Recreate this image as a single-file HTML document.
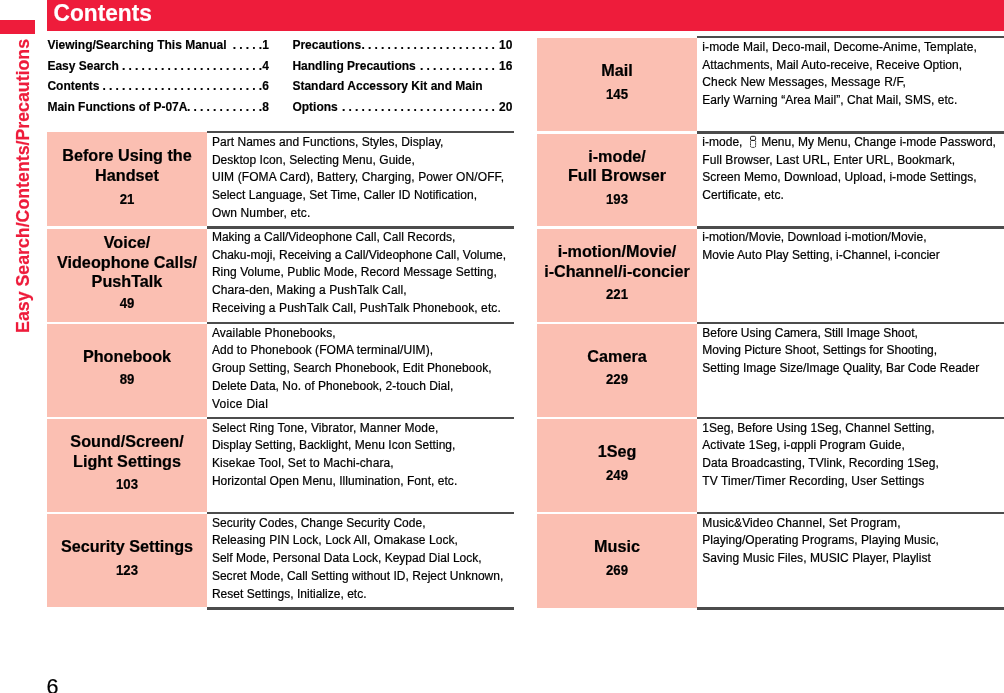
<!DOCTYPE html>
<html><head><meta charset="utf-8"><style>
html,body{margin:0;padding:0;background:#fff;}
body{width:1004px;height:693px;position:relative;overflow:hidden;will-change:transform;font-family:"Liberation Sans",sans-serif;}
.t{position:absolute;white-space:pre;-webkit-text-stroke:0.2px currentColor;}
.r{position:absolute;}
.vt{font-size:17.75px;font-weight:700;color:#ee1c3b;line-height:17.75px;transform-origin:0 0;transform:translate(15.0px,332.9px) rotate(-90deg);}
.toc{position:absolute;-webkit-text-stroke:0.15px #000;height:16px;line-height:12px;font-size:12px;font-weight:700;color:#000;overflow:hidden;white-space:nowrap;}
.toc .dots{position:absolute;top:0;white-space:pre;letter-spacing:-0.08px;}
.toc .tt{position:absolute;left:0;top:0;background:#fff;padding-right:4px;z-index:2;height:16px;}
.toc .num{position:absolute;right:0;top:0;background:#fff;padding-left:0px;}
.key{vertical-align:-2px;margin:0 1px 0 3px;}
</style></head><body>
<div class="r" style="left:0px;top:20px;width:35px;height:13.8px;background:#ee1c3b"></div>
<div class="r" style="left:47px;top:0px;width:957px;height:31px;background:#ee1c3b"></div>
<div class="t" style="left:53.60px;top:2.48px;font-size:22.7px;line-height:22.7px;font-weight:700;color:#fff;transform:scaleY(1.07);transform-origin:0 84.65%;">Contents</div>
<div class="t vt" style="left:0px;top:0px;">Easy Search/Contents/Precautions</div>
<div class="t" style="left:46.40px;top:677.00px;font-size:21.5px;line-height:21.5px;font-weight:400;color:#000;">6</div>
<div class="toc" style="left:47.4px;top:38.59px;width:221.5px"><span class="tt" style="padding-right:4px">Viewing/Searching This Manual</span><span class="num">1</span><span class="dots" style="right:6.97px"> . . . . . . . . . . . . . . . . . . . . . . . . . . . . . . . . . . . . . . . . . . . . . . . . . . . . . . . . . . . .</span></div>
<div class="toc" style="left:47.4px;top:59.74px;width:221.5px"><span class="tt" style="padding-right:1px">Easy Search</span><span class="num">4</span><span class="dots" style="right:6.97px"> . . . . . . . . . . . . . . . . . . . . . . . . . . . . . . . . . . . . . . . . . . . . . . . . . . . . . . . . . . . .</span></div>
<div class="toc" style="left:47.4px;top:79.74px;width:221.5px"><span class="tt" style="padding-right:1px">Contents</span><span class="num">6</span><span class="dots" style="right:6.97px"> . . . . . . . . . . . . . . . . . . . . . . . . . . . . . . . . . . . . . . . . . . . . . . . . . . . . . . . . . . . .</span></div>
<div class="toc" style="left:47.4px;top:100.54px;width:221.5px"><span class="tt" style="padding-right:0px">Main Functions of P-07A</span><span class="num">8</span><span class="dots" style="right:6.97px"> . . . . . . . . . . . . . . . . . . . . . . . . . . . . . . . . . . . . . . . . . . . . . . . . . . . . . . . . . . . .</span></div>
<div class="toc" style="left:292.4px;top:38.59px;width:220px"><span class="tt" style="padding-right:0px">Precautions</span><span class="num">10</span><span class="dots" style="right:17.54px"> . . . . . . . . . . . . . . . . . . . . . . . . . . . . . . . . . . . . . . . . . . . . . . . . . . . . . . . . . . . .</span></div>
<div class="toc" style="left:292.4px;top:59.74px;width:220px"><span class="tt" style="padding-right:1px">Handling Precautions</span><span class="num">16</span><span class="dots" style="right:17.54px"> . . . . . . . . . . . . . . . . . . . . . . . . . . . . . . . . . . . . . . . . . . . . . . . . . . . . . . . . . . . .</span></div>
<div class="toc" style="left:292.4px;top:79.74px;width:220px"><span class="tt">Standard Accessory Kit and Main</span></div>
<div class="toc" style="left:292.4px;top:100.54px;width:220px"><span class="tt" style="padding-right:1px">Options</span><span class="num">20</span><span class="dots" style="right:17.54px"> . . . . . . . . . . . . . . . . . . . . . . . . . . . . . . . . . . . . . . . . . . . . . . . . . . . . . . . . . . . .</span></div>
<svg style="position:absolute;left:749px;top:135px" width="8" height="14" viewBox="0 0 8 14"><rect x="1.5" y="5.3" width="5.1" height="7.1" rx="1.3" fill="none" stroke="#111" stroke-width="0.95" stroke-dasharray="1.3 0.45"/><rect x="1.5" y="1.3" width="5.1" height="4.2" rx="1.3" fill="none" stroke="#111" stroke-width="0.95"/></svg>
<div class="r" style="left:207px;top:131px;width:307px;height:2px;background:#4c4c4c"></div>
<div class="r" style="left:47px;top:132px;width:160px;height:94px;background:#fbbfb2"></div>
<div class="t" style="left:47.00px;top:147.35px;font-size:16.2px;line-height:16.2px;font-weight:700;color:#000;width:160px;text-align:center;">Before Using the</div>
<div class="t" style="left:47.00px;top:167.05px;font-size:16.2px;line-height:16.2px;font-weight:700;color:#000;width:160px;text-align:center;">Handset</div>
<div class="t" style="left:47.00px;top:193.39px;font-size:13.2px;line-height:13.2px;font-weight:700;color:#000;width:160px;text-align:center;transform:scaleY(1.1);transform-origin:50% 84.65%;">21</div>
<div class="t" style="left:211.90px;top:135.90px;font-size:12px;line-height:12px;font-weight:400;color:#000;letter-spacing:0.041px;">Part Names and Functions, Styles, Display,</div>
<div class="t" style="left:211.90px;top:153.65px;font-size:12px;line-height:12px;font-weight:400;color:#000;letter-spacing:0.043px;">Desktop Icon, Selecting Menu, Guide,</div>
<div class="t" style="left:211.90px;top:171.40px;font-size:12px;line-height:12px;font-weight:400;color:#000;letter-spacing:0.104px;">UIM (FOMA Card), Battery, Charging, Power ON/OFF,</div>
<div class="t" style="left:211.90px;top:189.15px;font-size:12px;line-height:12px;font-weight:400;color:#000;letter-spacing:0.033px;">Select Language, Set Time, Caller ID Notification,</div>
<div class="t" style="left:211.90px;top:206.90px;font-size:12px;line-height:12px;font-weight:400;color:#000;letter-spacing:0.160px;">Own Number, etc.</div>
<div class="r" style="left:207px;top:226px;width:307px;height:3px;background:#4c4c4c"></div>
<div class="r" style="left:47px;top:229px;width:160px;height:93px;background:#fbbfb2"></div>
<div class="t" style="left:47.00px;top:234.05px;font-size:16.2px;line-height:16.2px;font-weight:700;color:#000;width:160px;text-align:center;">Voice/</div>
<div class="t" style="left:47.00px;top:254.25px;font-size:16.2px;line-height:16.2px;font-weight:700;color:#000;width:160px;text-align:center;">Videophone Calls/</div>
<div class="t" style="left:47.00px;top:272.85px;font-size:16.2px;line-height:16.2px;font-weight:700;color:#000;width:160px;text-align:center;">PushTalk</div>
<div class="t" style="left:47.00px;top:297.49px;font-size:13.2px;line-height:13.2px;font-weight:700;color:#000;width:160px;text-align:center;transform:scaleY(1.1);transform-origin:50% 84.65%;">49</div>
<div class="t" style="left:211.90px;top:230.90px;font-size:12px;line-height:12px;font-weight:400;color:#000;letter-spacing:0.021px;">Making a Call/Videophone Call, Call Records,</div>
<div class="t" style="left:211.90px;top:248.65px;font-size:12px;line-height:12px;font-weight:400;color:#000;letter-spacing:-0.021px;">Chaku-moji, Receiving a Call/Videophone Call, Volume,</div>
<div class="t" style="left:211.90px;top:266.40px;font-size:12px;line-height:12px;font-weight:400;color:#000;letter-spacing:0.058px;">Ring Volume, Public Mode, Record Message Setting,</div>
<div class="t" style="left:211.90px;top:284.15px;font-size:12px;line-height:12px;font-weight:400;color:#000;letter-spacing:0.097px;">Chara-den, Making a PushTalk Call,</div>
<div class="t" style="left:211.90px;top:301.90px;font-size:12px;line-height:12px;font-weight:400;color:#000;letter-spacing:0.094px;">Receiving a PushTalk Call, PushTalk Phonebook, etc.</div>
<div class="r" style="left:207px;top:322px;width:307px;height:2px;background:#4c4c4c"></div>
<div class="r" style="left:47px;top:324px;width:160px;height:93px;background:#fbbfb2"></div>
<div class="t" style="left:47.00px;top:347.99px;font-size:16.2px;line-height:16.2px;font-weight:700;color:#000;width:160px;text-align:center;">Phonebook</div>
<div class="t" style="left:47.00px;top:373.03px;font-size:13.2px;line-height:13.2px;font-weight:700;color:#000;width:160px;text-align:center;transform:scaleY(1.1);transform-origin:50% 84.65%;">89</div>
<div class="t" style="left:211.90px;top:326.74px;font-size:12px;line-height:12px;font-weight:400;color:#000;letter-spacing:0.090px;">Available Phonebooks,</div>
<div class="t" style="left:211.90px;top:344.49px;font-size:12px;line-height:12px;font-weight:400;color:#000;letter-spacing:0.067px;">Add to Phonebook (FOMA terminal/UIM),</div>
<div class="t" style="left:211.90px;top:362.24px;font-size:12px;line-height:12px;font-weight:400;color:#000;letter-spacing:0.045px;">Group Setting, Search Phonebook, Edit Phonebook,</div>
<div class="t" style="left:211.90px;top:379.99px;font-size:12px;line-height:12px;font-weight:400;color:#000;letter-spacing:0.030px;">Delete Data, No. of Phonebook, 2-touch Dial,</div>
<div class="t" style="left:211.90px;top:397.74px;font-size:12px;line-height:12px;font-weight:400;color:#000;letter-spacing:0.300px;">Voice Dial</div>
<div class="r" style="left:207px;top:417px;width:307px;height:2px;background:#4c4c4c"></div>
<div class="r" style="left:47px;top:419px;width:160px;height:93px;background:#fbbfb2"></div>
<div class="t" style="left:47.00px;top:433.19px;font-size:16.2px;line-height:16.2px;font-weight:700;color:#000;width:160px;text-align:center;">Sound/Screen/</div>
<div class="t" style="left:47.00px;top:452.89px;font-size:16.2px;line-height:16.2px;font-weight:700;color:#000;width:160px;text-align:center;">Light Settings</div>
<div class="t" style="left:47.00px;top:478.23px;font-size:13.2px;line-height:13.2px;font-weight:700;color:#000;width:160px;text-align:center;transform:scaleY(1.1);transform-origin:50% 84.65%;">103</div>
<div class="t" style="left:211.90px;top:421.74px;font-size:12px;line-height:12px;font-weight:400;color:#000;letter-spacing:0.103px;">Select Ring Tone, Vibrator, Manner Mode,</div>
<div class="t" style="left:211.90px;top:439.49px;font-size:12px;line-height:12px;font-weight:400;color:#000;letter-spacing:0.031px;">Display Setting, Backlight, Menu Icon Setting,</div>
<div class="t" style="left:211.90px;top:457.24px;font-size:12px;line-height:12px;font-weight:400;color:#000;letter-spacing:0.100px;">Kisekae Tool, Set to Machi-chara,</div>
<div class="t" style="left:211.90px;top:474.99px;font-size:12px;line-height:12px;font-weight:400;color:#000;letter-spacing:0.027px;">Horizontal Open Menu, Illumination, Font, etc.</div>
<div class="r" style="left:207px;top:512px;width:307px;height:2px;background:#4c4c4c"></div>
<div class="r" style="left:47px;top:514px;width:160px;height:93px;background:#fbbfb2"></div>
<div class="t" style="left:47.00px;top:537.99px;font-size:16.2px;line-height:16.2px;font-weight:700;color:#000;width:160px;text-align:center;">Security Settings</div>
<div class="t" style="left:47.00px;top:564.03px;font-size:13.2px;line-height:13.2px;font-weight:700;color:#000;width:160px;text-align:center;transform:scaleY(1.1);transform-origin:50% 84.65%;">123</div>
<div class="t" style="left:211.90px;top:516.74px;font-size:12px;line-height:12px;font-weight:400;color:#000;letter-spacing:0.044px;">Security Codes, Change Security Code,</div>
<div class="t" style="left:211.90px;top:534.49px;font-size:12px;line-height:12px;font-weight:400;color:#000;letter-spacing:0.060px;">Releasing PIN Lock, Lock All, Omakase Lock,</div>
<div class="t" style="left:211.90px;top:552.24px;font-size:12px;line-height:12px;font-weight:400;color:#000;letter-spacing:0.021px;">Self Mode, Personal Data Lock, Keypad Dial Lock,</div>
<div class="t" style="left:211.90px;top:569.99px;font-size:12px;line-height:12px;font-weight:400;color:#000;letter-spacing:0.025px;">Secret Mode, Call Setting without ID, Reject Unknown,</div>
<div class="t" style="left:211.90px;top:587.74px;font-size:12px;line-height:12px;font-weight:400;color:#000;letter-spacing:0.019px;">Reset Settings, Initialize, etc.</div>
<div class="r" style="left:207px;top:607px;width:307px;height:3px;background:#4c4c4c"></div>
<div class="r" style="left:697px;top:36px;width:307px;height:2px;background:#4c4c4c"></div>
<div class="r" style="left:537px;top:38px;width:160px;height:93px;background:#fbbfb2"></div>
<div class="t" style="left:537.00px;top:62.09px;font-size:16.2px;line-height:16.2px;font-weight:700;color:#000;width:160px;text-align:center;">Mail</div>
<div class="t" style="left:537.00px;top:88.13px;font-size:13.2px;line-height:13.2px;font-weight:700;color:#000;width:160px;text-align:center;transform:scaleY(1.1);transform-origin:50% 84.65%;">145</div>
<div class="t" style="left:702.30px;top:40.84px;font-size:12px;line-height:12px;font-weight:400;color:#000;letter-spacing:0.085px;">i-mode Mail, Deco-mail, Decome-Anime, Template,</div>
<div class="t" style="left:702.30px;top:58.59px;font-size:12px;line-height:12px;font-weight:400;color:#000;letter-spacing:0.052px;">Attachments, Mail Auto-receive, Receive Option,</div>
<div class="t" style="left:702.30px;top:76.34px;font-size:12px;line-height:12px;font-weight:400;color:#000;letter-spacing:0.135px;">Check New Messages, Message R/F,</div>
<div class="t" style="left:702.30px;top:94.09px;font-size:12px;line-height:12px;font-weight:400;color:#000;letter-spacing:0.043px;">Early Warning “Area Mail”, Chat Mail, SMS, etc.</div>
<div class="r" style="left:697px;top:131px;width:307px;height:3px;background:#4c4c4c"></div>
<div class="r" style="left:537px;top:134px;width:160px;height:92px;background:#fbbfb2"></div>
<div class="t" style="left:537.00px;top:148.35px;font-size:16.2px;line-height:16.2px;font-weight:700;color:#000;width:160px;text-align:center;">i-mode/</div>
<div class="t" style="left:537.00px;top:167.05px;font-size:16.2px;line-height:16.2px;font-weight:700;color:#000;width:160px;text-align:center;">Full Browser</div>
<div class="t" style="left:537.00px;top:193.39px;font-size:13.2px;line-height:13.2px;font-weight:700;color:#000;width:160px;text-align:center;transform:scaleY(1.1);transform-origin:50% 84.65%;">193</div>
<div class="t" style="left:702.30px;top:135.90px;font-size:12px;line-height:12px;font-weight:400;color:#000;letter-spacing:0.019px;">i-mode, <span style="display:inline-block;width:12px"></span> Menu, My Menu, Change i-mode Password,</div>
<div class="t" style="left:702.30px;top:153.65px;font-size:12px;line-height:12px;font-weight:400;color:#000;letter-spacing:0.079px;">Full Browser, Last URL, Enter URL, Bookmark,</div>
<div class="t" style="left:702.30px;top:171.40px;font-size:12px;line-height:12px;font-weight:400;color:#000;letter-spacing:0.033px;">Screen Memo, Download, Upload, i-mode Settings,</div>
<div class="t" style="left:702.30px;top:189.15px;font-size:12px;line-height:12px;font-weight:400;color:#000;letter-spacing:0.094px;">Certificate, etc.</div>
<div class="r" style="left:697px;top:226px;width:307px;height:3px;background:#4c4c4c"></div>
<div class="r" style="left:537px;top:229px;width:160px;height:93px;background:#fbbfb2"></div>
<div class="t" style="left:537.00px;top:243.35px;font-size:16.2px;line-height:16.2px;font-weight:700;color:#000;width:160px;text-align:center;">i-motion/Movie/</div>
<div class="t" style="left:537.00px;top:263.05px;font-size:16.2px;line-height:16.2px;font-weight:700;color:#000;width:160px;text-align:center;">i-Channel/i-concier</div>
<div class="t" style="left:537.00px;top:288.39px;font-size:13.2px;line-height:13.2px;font-weight:700;color:#000;width:160px;text-align:center;transform:scaleY(1.1);transform-origin:50% 84.65%;">221</div>
<div class="t" style="left:702.30px;top:230.90px;font-size:12px;line-height:12px;font-weight:400;color:#000;letter-spacing:0.038px;">i-motion/Movie, Download i-motion/Movie,</div>
<div class="t" style="left:702.30px;top:248.65px;font-size:12px;line-height:12px;font-weight:400;color:#000;letter-spacing:0.016px;">Movie Auto Play Setting, i-Channel, i-concier</div>
<div class="r" style="left:697px;top:322px;width:307px;height:2px;background:#4c4c4c"></div>
<div class="r" style="left:537px;top:324px;width:160px;height:93px;background:#fbbfb2"></div>
<div class="t" style="left:537.00px;top:347.99px;font-size:16.2px;line-height:16.2px;font-weight:700;color:#000;width:160px;text-align:center;">Camera</div>
<div class="t" style="left:537.00px;top:373.03px;font-size:13.2px;line-height:13.2px;font-weight:700;color:#000;width:160px;text-align:center;transform:scaleY(1.1);transform-origin:50% 84.65%;">229</div>
<div class="t" style="left:702.30px;top:326.74px;font-size:12px;line-height:12px;font-weight:400;color:#000;letter-spacing:-0.016px;">Before Using Camera, Still Image Shoot,</div>
<div class="t" style="left:702.30px;top:344.49px;font-size:12px;line-height:12px;font-weight:400;color:#000;letter-spacing:-0.016px;">Moving Picture Shoot, Settings for Shooting,</div>
<div class="t" style="left:702.30px;top:362.24px;font-size:12px;line-height:12px;font-weight:400;color:#000;letter-spacing:-0.008px;">Setting Image Size/Image Quality, Bar Code Reader</div>
<div class="r" style="left:697px;top:417px;width:307px;height:2px;background:#4c4c4c"></div>
<div class="r" style="left:537px;top:419px;width:160px;height:93px;background:#fbbfb2"></div>
<div class="t" style="left:537.00px;top:442.99px;font-size:16.2px;line-height:16.2px;font-weight:700;color:#000;width:160px;text-align:center;">1Seg</div>
<div class="t" style="left:537.00px;top:469.03px;font-size:13.2px;line-height:13.2px;font-weight:700;color:#000;width:160px;text-align:center;transform:scaleY(1.1);transform-origin:50% 84.65%;">249</div>
<div class="t" style="left:702.30px;top:421.74px;font-size:12px;line-height:12px;font-weight:400;color:#000;letter-spacing:0.037px;">1Seg, Before Using 1Seg, Channel Setting,</div>
<div class="t" style="left:702.30px;top:439.49px;font-size:12px;line-height:12px;font-weight:400;color:#000;letter-spacing:0.042px;">Activate 1Seg, i-αppli Program Guide,</div>
<div class="t" style="left:702.30px;top:457.24px;font-size:12px;line-height:12px;font-weight:400;color:#000;letter-spacing:0.046px;">Data Broadcasting, TVlink, Recording 1Seg,</div>
<div class="t" style="left:702.30px;top:474.99px;font-size:12px;line-height:12px;font-weight:400;color:#000;letter-spacing:0.082px;">TV Timer/Timer Recording, User Settings</div>
<div class="r" style="left:697px;top:512px;width:307px;height:2px;background:#4c4c4c"></div>
<div class="r" style="left:537px;top:514px;width:160px;height:94px;background:#fbbfb2"></div>
<div class="t" style="left:537.00px;top:537.99px;font-size:16.2px;line-height:16.2px;font-weight:700;color:#000;width:160px;text-align:center;">Music</div>
<div class="t" style="left:537.00px;top:564.03px;font-size:13.2px;line-height:13.2px;font-weight:700;color:#000;width:160px;text-align:center;transform:scaleY(1.1);transform-origin:50% 84.65%;">269</div>
<div class="t" style="left:702.30px;top:516.74px;font-size:12px;line-height:12px;font-weight:400;color:#000;letter-spacing:0.094px;">Music&amp;Video Channel, Set Program,</div>
<div class="t" style="left:702.30px;top:534.49px;font-size:12px;line-height:12px;font-weight:400;color:#000;letter-spacing:0.046px;">Playing/Operating Programs, Playing Music,</div>
<div class="t" style="left:702.30px;top:552.24px;font-size:12px;line-height:12px;font-weight:400;color:#000;letter-spacing:0.046px;">Saving Music Files, MUSIC Player, Playlist</div>
<div class="r" style="left:697px;top:607px;width:307px;height:3px;background:#4c4c4c"></div>
</body></html>
